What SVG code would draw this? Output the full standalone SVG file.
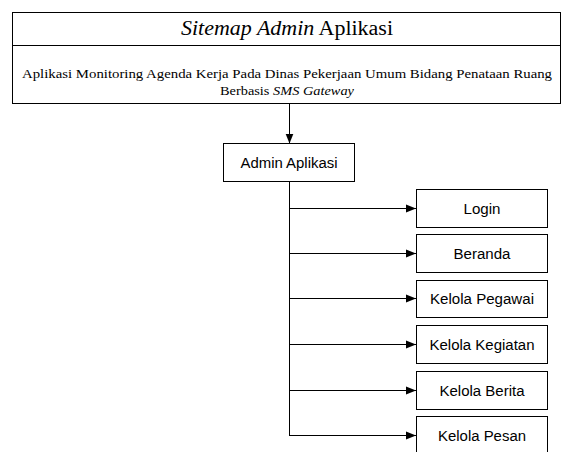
<svg xmlns="http://www.w3.org/2000/svg" width="568" height="452" viewBox="0 0 568 452">
<style>
.box{fill:#fff;stroke:#000;stroke-width:1}
.lbl{font-family:"Liberation Sans",Arial,sans-serif;font-size:14px;fill:#000;text-anchor:middle}
.serif{font-family:"Liberation Serif","Times New Roman",serif;fill:#000;text-anchor:middle}
.conn{stroke:#000;stroke-width:1;fill:none}
</style>
<defs>
<marker id="arr" viewBox="0 0 10 10" refX="10" refY="5" markerWidth="10" markerHeight="10" markerUnits="userSpaceOnUse" orient="auto">
<path d="M0,1 L10,5 L0,9 Z" fill="#000"/>
</marker>
</defs>
<rect width="568" height="452" fill="#fff"/>
<g id="header">
<rect class="box" x="12.5" y="12.5" width="548" height="91"/>
<line class="conn" x1="12.5" y1="45.5" x2="560.5" y2="45.5"/>
<text class="serif" x="287" y="35" font-size="20" textLength="212" lengthAdjust="spacingAndGlyphs"><tspan font-style="italic">Sitemap Admin</tspan> Aplikasi</text>
<text class="serif" x="287" y="78" font-size="13" textLength="530" lengthAdjust="spacingAndGlyphs">Aplikasi Monitoring Agenda Kerja Pada Dinas Pekerjaan Umum Bidang Penataan Ruang</text>
<text class="serif" x="287" y="95" font-size="13" textLength="134" lengthAdjust="spacingAndGlyphs">Berbasis <tspan font-style="italic">SMS Gateway</tspan></text>
</g>
<g id="connectors">
<line class="conn" x1="289.5" y1="103.5" x2="289.5" y2="143.5" marker-end="url(#arr)"/>
<polyline class="conn" points="289.5,181.5 289.5,435.5"/>
<line class="conn" x1="289.5" y1="208.5" x2="416" y2="208.5" marker-end="url(#arr)"/>
<line class="conn" x1="289.5" y1="253.5" x2="416" y2="253.5" marker-end="url(#arr)"/>
<line class="conn" x1="289.5" y1="298.5" x2="416" y2="298.5" marker-end="url(#arr)"/>
<line class="conn" x1="289.5" y1="344.5" x2="416" y2="344.5" marker-end="url(#arr)"/>
<line class="conn" x1="289.5" y1="390.5" x2="416" y2="390.5" marker-end="url(#arr)"/>
<line class="conn" x1="289" y1="435.5" x2="416" y2="435.5" marker-end="url(#arr)"/>
</g>
<g id="admin">
<rect class="box" x="223.5" y="143.5" width="131" height="38"/>
<text class="lbl" x="289" y="167.5" textLength="97" lengthAdjust="spacingAndGlyphs">Admin Aplikasi</text>
</g>
<g id="login">
<rect class="box" x="416.5" y="189.5" width="131" height="38"/>
<text class="lbl" x="482" y="213.5" textLength="37" lengthAdjust="spacingAndGlyphs">Login</text>
</g>
<g id="beranda">
<rect class="box" x="416.5" y="234.5" width="131" height="38"/>
<text class="lbl" x="482" y="258.5" textLength="57" lengthAdjust="spacingAndGlyphs">Beranda</text>
</g>
<g id="pegawai">
<rect class="box" x="416.5" y="280.5" width="131" height="37"/>
<text class="lbl" x="482" y="303.5" textLength="104" lengthAdjust="spacingAndGlyphs">Kelola Pegawai</text>
</g>
<g id="kegiatan">
<rect class="box" x="416.5" y="325.5" width="131" height="38"/>
<text class="lbl" x="482" y="349.5" textLength="105" lengthAdjust="spacingAndGlyphs">Kelola Kegiatan</text>
</g>
<g id="berita">
<rect class="box" x="416.5" y="371.5" width="131" height="38"/>
<text class="lbl" x="482" y="395.5" textLength="85" lengthAdjust="spacingAndGlyphs">Kelola Berita</text>
</g>
<g id="pesan">
<rect class="box" x="416.5" y="416.5" width="131" height="38"/>
<text class="lbl" x="482" y="440.5" textLength="88" lengthAdjust="spacingAndGlyphs">Kelola Pesan</text>
</g>
</svg>
